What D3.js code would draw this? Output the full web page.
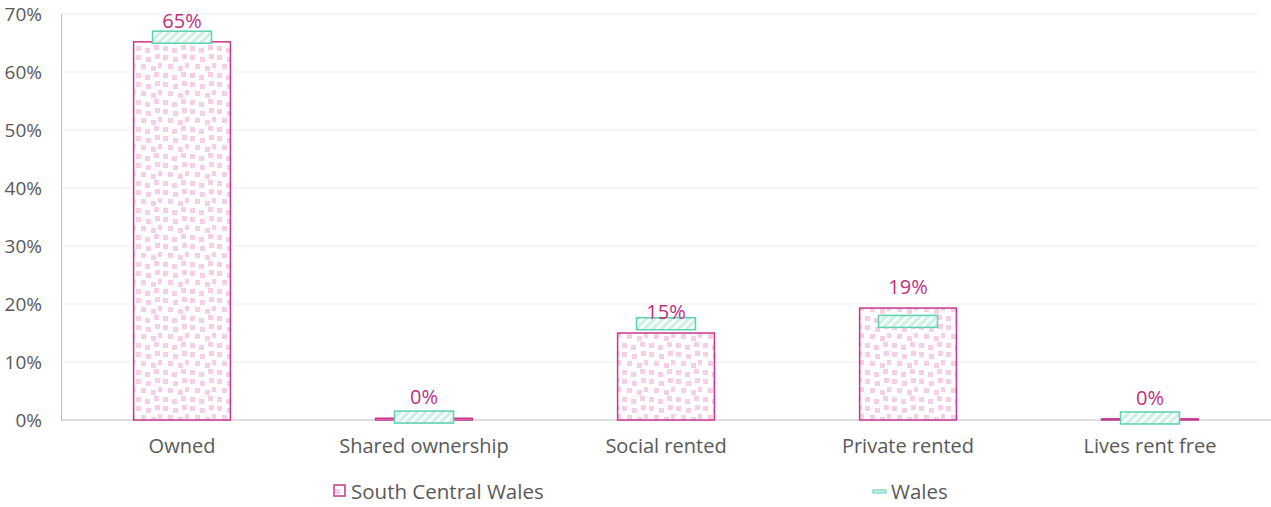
<!DOCTYPE html>
<html>
<head>
<meta charset="utf-8">
<script src="https://cdn.jsdelivr.net/npm/d3@7"></script>
<style>
  body { margin: 0; background: #fff; }
  text { font-family: "Open Sans", sans-serif; }
</style>
</head>
<body>
<svg width="1271" height="507"></svg>
<script>
const categories = ["Owned", "Shared ownership", "Social rented", "Private rented", "Lives rent free"];
const southCentral = [0.652, 0.003, 0.150, 0.193, 0.002];
const wales = [0.660, 0.005, 0.166, 0.170, 0.0035];
const yTicks = [0, 0.1, 0.2, 0.3, 0.4, 0.5, 0.6, 0.7];
const seriesNames = ["South Central Wales", "Wales"];

const pink = "#C8378D";
const teal = "#5FD0B0";
const grey = "#595959";

const svg = d3.select("svg");

const x = d3.scaleBand()
  .domain(categories)
  .range([61, 1271])
  .paddingInner(0.6)
  .paddingOuter(0.3);

const y = d3.scaleLinear()
  .domain([0, 0.7])
  .range([420, 14]);

// patterns
const defs = svg.append("defs");
const confetti = defs.append("pattern")
  .attr("id", "confetti")
  .attr("patternUnits", "userSpaceOnUse")
  .attr("width", 27).attr("height", 27);
confetti.append("rect").attr("width", 27).attr("height", 27).attr("fill", "#fff");
[[1, 1], [11, 3], [20, 0], [6, 10], [16, 12], [23, 9], [1, 19], [10, 21], [19, 18]].forEach(p => {
  confetti.append("rect")
    .attr("x", p[0]).attr("y", p[1])
    .attr("width", 5).attr("height", 5)
    .attr("fill", "#F5CFE7");
});

const hatch = defs.append("pattern")
  .attr("id", "hatch")
  .attr("patternUnits", "userSpaceOnUse")
  .attr("width", 6).attr("height", 6)
  .attr("patternTransform", "rotate(45)");
hatch.append("rect").attr("width", 6).attr("height", 6).attr("fill", "#CDF1E5");
hatch.append("rect").attr("width", 2.5).attr("height", 6).attr("fill", "#fff");

// gridlines
svg.append("g")
  .selectAll("line")
  .data(yTicks.slice(1))
  .join("line")
  .attr("x1", 61).attr("x2", 1258)
  .attr("y1", d => y(d)).attr("y2", d => y(d))
  .attr("stroke", "#EDEDED");

// Y axis
const yAxis = svg.append("g")
  .attr("transform", "translate(61,0)")
  .call(d3.axisLeft(y).tickValues(yTicks).tickFormat(d3.format(".0%")).tickSize(0).tickPadding(19));
yAxis.select(".domain").attr("stroke", "#BFBFBF");
yAxis.selectAll(".tick text")
  .attr("fill", grey)
  .style("font-size", "19px")
  .style("font-family", "Open Sans");

// X axis
const xAxis = svg.append("g")
  .attr("transform", "translate(0,420)")
  .call(d3.axisBottom(x).tickSize(0).tickPadding(19));
xAxis.select(".domain").attr("stroke", "#BFBFBF").attr("d", "M61,0H1271");
xAxis.selectAll(".tick text")
  .attr("fill", grey)
  .style("font-size", "20px")
  .style("font-family", "Open Sans");

// South Central Wales bars
svg.append("g")
  .selectAll("rect")
  .data(southCentral)
  .join("rect")
  .attr("x", (d, i) => x(categories[i]))
  .attr("y", d => y(d))
  .attr("width", x.bandwidth())
  .attr("height", d => y(0) - y(d))
  .attr("fill", "url(#confetti)")
  .attr("stroke", pink)
  .attr("stroke-width", 1.5);

// Wales markers
const mw = 59, mh = 12;
svg.append("g")
  .selectAll("rect")
  .data(wales)
  .join("rect")
  .attr("x", (d, i) => x(categories[i]) + x.bandwidth() / 2 - mw / 2)
  .attr("y", d => y(d) - mh / 2)
  .attr("width", mw)
  .attr("height", mh)
  .attr("fill", "url(#hatch)")
  .attr("stroke", teal)
  .attr("stroke-width", 1.5);

// data labels
svg.append("g")
  .selectAll("text")
  .data(southCentral)
  .join("text")
  .attr("x", (d, i) => x(categories[i]) + x.bandwidth() / 2)
  .attr("y", d => y(d) - 14)
  .attr("text-anchor", "middle")
  .attr("fill", "#C0307F")
  .style("font-size", "20px")
  .text(d => d3.format(".0%")(d));

// legend
const legend = svg.append("g");
legend.append("rect")
  .attr("x", 334).attr("y", 485).attr("width", 11).attr("height", 11)
  .attr("fill", "url(#confetti)").attr("stroke", pink).attr("stroke-width", 1.5);
legend.append("text")
  .attr("x", 351).attr("y", 499)
  .attr("fill", grey).style("font-size", "20.5px")
  .text(seriesNames[0]);
legend.append("rect")
  .attr("x", 873).attr("y", 490).attr("width", 13).attr("height", 3)
  .attr("fill", "#CDF1E5").attr("stroke", teal).attr("stroke-width", 1);
legend.append("text")
  .attr("x", 891).attr("y", 499)
  .attr("fill", grey).style("font-size", "20.5px")
  .text(seriesNames[1]);
</script>
</body>
</html>
